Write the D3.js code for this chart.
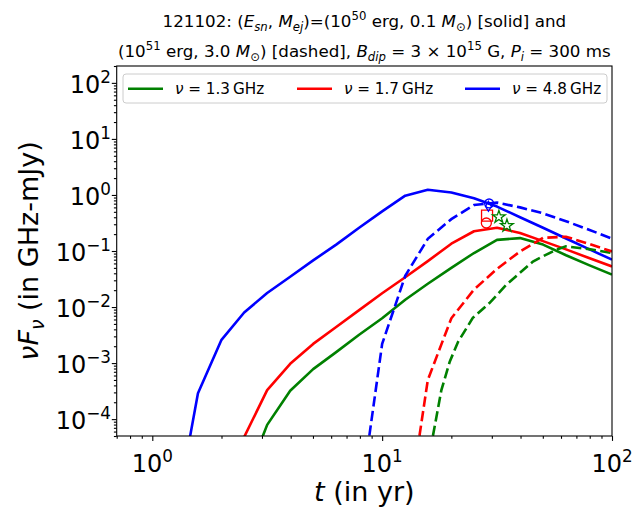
<!DOCTYPE html>
<html>
<head>
<meta charset="utf-8">
<script src="https://cdn.jsdelivr.net/npm/d3@7"></script>
<style>
body { margin: 0; background: #fff; }
svg { font-family: "DejaVu Sans", sans-serif; }
text { white-space: pre; }
</style>
</head>
<body>
<div id="c"></div>
<script>
"use strict";

// time grid of the solid curves (yr)
const tSolid = [1.26, 1.58, 2.0, 2.51, 3.16, 3.98, 5.01, 6.31, 7.94, 10, 12.6, 15.8, 20, 25.1, 31.6, 39.8, 50.1, 63.1, 79.4, 100]
const greenSolid = [null, null, null, 7e-6, 7.9e-5, 3.2e-4, 7.8e-4, 1.57e-3, 3.2e-3, 6.3e-3, 0.0135, 0.026, 0.05, 0.092, 0.158, 0.17, 0.13, 0.084, 0.056, 0.038]
const redSolid = [null, null, 1e-6, 4.8e-5, 3.3e-4, 9.7e-4, 2.2e-3, 4.4e-3, 8.8e-3, 0.0176, 0.034, 0.066, 0.135, 0.225, 0.26, 0.21, 0.15, 0.107, 0.075, 0.053]
const blueSolid = [1.8e-6, 2.9e-4, 2.6e-3, 8.0e-3, 0.0178, 0.0348, 0.068, 0.13, 0.26, 0.51, 0.97, 1.24, 1.11, 0.87, 0.62, 0.40, 0.26, 0.167, 0.108, 0.07]

// dashed curves
const tGreenDashed = [16.2, 18.1, 19.7, 21.4, 24.8, 29.3, 34.7, 45.3, 57, 63, 79.4, 100]
const greenDashed = [2.8e-5, 3.3e-4, 1.07e-3, 2.4e-3, 6.4e-3, 0.0118, 0.025, 0.065, 0.105, 0.121, 0.108, 0.092]
const tRedDashed = [12.6, 15.8, 20, 25.1, 31.6, 39.8, 50.1, 63.1, 79.4, 100]
const redDashed = [1e-6, 5e-4, 6.3e-3, 0.0205, 0.048, 0.098, 0.172, 0.18, 0.134, 0.098]
const tBlueDashed = [7.94, 10, 12.6, 15.8, 20, 25.1, 31.6, 39.8, 50.1, 63.1, 79.4, 100]
const blueDashed = [2.5e-6, 2.2e-3, 0.036, 0.165, 0.37, 0.66, 0.73, 0.6, 0.47, 0.34, 0.24, 0.166]

// observed points
const blueCircle = [[29.2, 0.705]]
const blueDiamond = [[29.0, 0.626]]
const redSquare = [[28.6, 0.427]]
const redCircle = [[28.4, 0.316]]
const greenStars = [[32.2, 0.405], [34.9, 0.283]]

const legendLabels = ["1.3", "1.7", "4.8"]
const colors = ["#008000", "#ff0000", "#0000ff"]
const xMajor = [1, 10, 100]
const yMajor = [1e-4, 1e-3, 1e-2, 1e-1, 1, 10, 100]

const W = 643, H = 520
const box = {left: 116.7, right: 612, top: 66, bottom: 436}
const dash = [10.3, 4.4]

let svg = d3.select('#c').append('svg').attr('width', W).attr('height', H)

let x = d3.scaleLog().domain([0.7, 100]).range([box.left, box.right])
let y = d3.scaleLog().domain([5e-5, 200]).range([box.bottom, box.top])

// mathtext-like text: parts are [text, kind], kind = n | i | sub | isub | sup
function rich(sel, parts, size) {
    let shift = 0
    parts.forEach(([txt, kind]) => {
        let target = 0, fs = size
        if (kind == 'sup') { target = -0.42 * size; fs = 0.7 * size }
        if (kind == 'sub' || kind == 'isub') { target = 0.22 * size; fs = 0.7 * size }
        sel.append('tspan')
            .attr('dy', target - shift)
            .style('font-size', fs + 'px')
            .style('font-style', (kind == 'i' || kind == 'isub') ? 'italic' : 'normal')
            .text(txt)
        shift = target
    })
}

svg.append('clipPath').attr('id', 'clip')
    .append('rect')
    .attr('x', box.left).attr('y', box.top)
    .attr('width', box.right - box.left).attr('height', box.bottom - box.top)

// minor ticks
let xMinor = []
let yMinor = []
;[0.1, 1, 10].forEach(d => { for (let k = 2; k <= 9; k++) if (k * d >= 0.7 && k * d < 100) xMinor.push(k * d) })
for (let e = -5; e <= 2; e++) for (let k = 2; k <= 9; k++) {
    let v = k * Math.pow(10, e)
    if (v >= 5e-5 && v <= 200) yMinor.push(v)
}

function axisStyle(g) {
    g.select('.domain').remove()
    g.selectAll('line').attr('stroke', '#000').attr('stroke-width', 1.1)
}

svg.append('g').attr('transform', 'translate(0,' + box.bottom + ')')
    .call(d3.axisBottom(x).tickValues(xMajor).tickSize(4.9).tickFormat(''))
    .call(axisStyle)
svg.append('g').attr('transform', 'translate(0,' + box.bottom + ')')
    .call(d3.axisBottom(x).tickValues(xMinor).tickSize(2.8).tickFormat(''))
    .call(axisStyle)
svg.append('g').attr('transform', 'translate(' + box.left + ',0)')
    .call(d3.axisLeft(y).tickValues(yMajor).tickSize(4.9).tickFormat(''))
    .call(axisStyle)
svg.append('g').attr('transform', 'translate(' + box.left + ',0)')
    .call(d3.axisLeft(y).tickValues(yMinor).tickSize(2.8).tickFormat(''))
    .call(axisStyle)

const expStr = v => {
    let e = Math.round(Math.log10(v))
    return e < 0 ? '\u2212' + (-e) : '' + e
}

xMajor.forEach(v => {
    let t = svg.append('text').attr('x', x(v)).attr('y', 472)
        .attr('text-anchor', 'middle').style('font-size', '24px')
    rich(t, [['10', 'n'], [expStr(v), 'sup']], 24)
})
yMajor.forEach(v => {
    let t = svg.append('text').attr('x', 111).attr('y', y(v) + 10)
        .attr('text-anchor', 'end').style('font-size', '24px')
    rich(t, [['10', 'n'], [expStr(v), 'sup']], 24)
})

// curves
let lineGen = d3.line().x(d => x(d[0])).y(d => y(d[1]))
let plot = svg.append('g').attr('clip-path', 'url(#clip)')

const pairs = (ts, vs) => ts.map((t, i) => [t, vs[i]]).filter(d => d[1] != null)

;[[tSolid, greenSolid, 0], [tSolid, redSolid, 1], [tSolid, blueSolid, 2]].forEach(([ts, vs, c]) => {
    plot.append('path').datum(pairs(ts, vs))
        .attr('fill', 'none').attr('stroke', colors[c]).attr('stroke-width', 2.6)
        .attr('stroke-linejoin', 'round')
        .attr('d', lineGen)
})
;[[tGreenDashed, greenDashed, 0], [tRedDashed, redDashed, 1], [tBlueDashed, blueDashed, 2]].forEach(([ts, vs, c]) => {
    let p = plot.append('path').datum(pairs(ts, vs))
        .attr('fill', 'none').attr('stroke', colors[c]).attr('stroke-width', 2.6)
        .attr('stroke-dasharray', dash.join(','))
        .attr('d', lineGen)
    // start the dash pattern where the curve enters the axes
    let node = p.node(), total = node.getTotalLength(), s = 0
    while (s < total && node.getPointAtLength(s).y > box.bottom) s += 0.5
    p.attr('stroke-dashoffset', -s)
})

// markers
function markers(data, pathStr, color) {
    plot.selectAll(null).data(data).enter().append('path')
        .attr('transform', d => 'translate(' + x(d[0]) + ',' + y(d[1]) + ')')
        .attr('d', pathStr)
        .attr('fill', 'none').attr('stroke', color).attr('stroke-width', 1.3)
}
markers(redSquare, d3.symbol(d3.symbolSquare, 121)(), colors[1])
markers(redCircle, d3.symbol(d3.symbolCircle, Math.PI * 25)(), colors[1])
markers(blueCircle, d3.symbol(d3.symbolCircle, Math.PI * 20)(), colors[2])
markers(blueDiamond, 'M0,-5L3,0L0,5L-3,0Z', colors[2])
markers(greenStars, d3.symbol(d3.symbolStar, 50)(), colors[0])

// frame
svg.append('rect')
    .attr('x', box.left).attr('y', box.top)
    .attr('width', box.right - box.left).attr('height', box.bottom - box.top)
    .attr('fill', 'none').attr('stroke', '#000').attr('stroke-width', 1.1)

// legend
let legend = svg.append('g')
legend.append('rect')
    .attr('x', 123).attr('y', 74).attr('width', 484).attr('height', 29).attr('rx', 3)
    .attr('fill', '#fff').attr('fill-opacity', 0.8).attr('stroke', '#cccccc')
const legendX = [128, 297, 465]
legendLabels.forEach((lab, i) => {
    legend.append('line')
        .attr('x1', legendX[i]).attr('x2', legendX[i] + 35)
        .attr('y1', 88.7).attr('y2', 88.7)
        .attr('stroke', colors[i]).attr('stroke-width', 2.6)
    let t = legend.append('text').attr('x', legendX[i] + 47).attr('y', 94.3)
        .style('font-size', '15.2px')
    rich(t, [['\u03bd', 'i'], [' = ' + lab + '\u2009GHz', 'n']], 15.2)
})

// title
let cx = (box.left + box.right) / 2
let t1 = svg.append('text').attr('x', cx).attr('y', 27).attr('text-anchor', 'middle').style('font-size', '16.7px')
rich(t1, [['121102: (', 'n'], ['E', 'i'], ['sn', 'isub'], [', ', 'n'], ['M', 'i'], ['ej', 'isub'],
    [')=(10', 'n'], ['50', 'sup'], [' erg, 0.1 ', 'n'], ['M', 'i'], ['\u2299', 'sub'], [') [solid] and', 'n']], 16.7)
let t2 = svg.append('text').attr('x', cx).attr('y', 57).attr('text-anchor', 'middle').style('font-size', '16.7px')
rich(t2, [['(10', 'n'], ['51', 'sup'], [' erg, 3.0 ', 'n'], ['M', 'i'], ['\u2299', 'sub'], [') [dashed], ', 'n'],
    ['B', 'i'], ['dip', 'isub'], [' = 3 \u00d7 10', 'n'], ['15', 'sup'], [' G, ', 'n'], ['P', 'i'], ['i', 'isub'],
    [' = 300 ms', 'n']], 16.7)

// axis labels
let xl = svg.append('text').attr('x', cx).attr('y', 501).attr('text-anchor', 'middle').style('font-size', '27px')
rich(xl, [['t', 'i'], [' (in yr)', 'n']], 27)
let yl = svg.append('text').attr('transform', 'translate(38,' + ((box.top + box.bottom) / 2) + ') rotate(-90)')
    .attr('text-anchor', 'middle').style('font-size', '27px')
rich(yl, [['\u03bdF', 'i'], ['\u03bd', 'isub'], [' (in GHz-mJy)', 'n']], 27)
</script>
</body>
</html>
